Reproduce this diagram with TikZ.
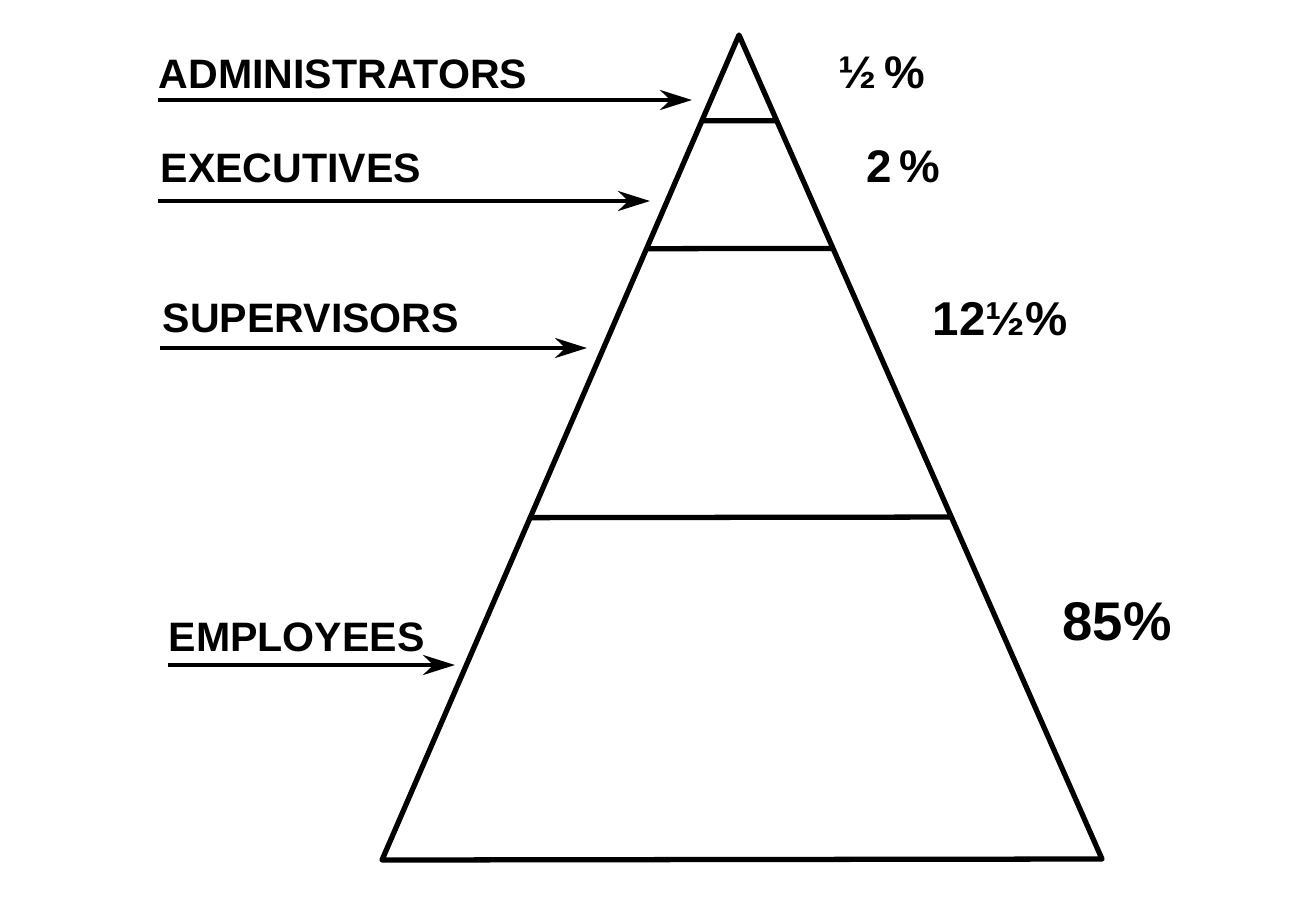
\documentclass[tikz,border=0pt]{standalone}
\usepackage{fontspec}
\setmainfont{Liberation Sans}
\usepackage{tikz}
\usetikzlibrary{positioning,arrows.meta,calc}

\begin{document}
\begin{tikzpicture}[
lbl/.style={anchor=base west,inner sep=0pt,font=\fontsize{11.7}{14}\selectfont\bfseries},
pct/.style={anchor=base west,inner sep=0pt,font=\fontsize{#1}{18}\selectfont\bfseries},
pct/.default=13,
arr/.style={-{Stealth[length=3.2mm,width=2mm]},line width=1.2pt},
edge/.style={line width=1.5pt,line join=round}]
\useasboundingbox (0,0) rectangle (13.1,9.02);
% pyramid
\coordinate (apex) at (7.39,8.67);
\coordinate (bl) at (3.82,0.42);
\coordinate (br) at (11.02,0.43);
\draw[edge] (apex)--(bl)--(br)--cycle;
\draw[edge] ($(apex)!0.104!(bl)$)--($(apex)!0.104!(br)$);
\draw[edge] ($(apex)!0.259!(bl)$)--($(apex)!0.259!(br)$);
\draw[edge] ($(apex)!0.585!(bl)$)--($(apex)!0.585!(br)$);
% labels
\node[lbl] (adm) at (1.58,8.14) {ADMINISTRATORS};
\node[lbl] (exe) at (1.60,7.20) {EXECUTIVES};
\node[lbl] (sup) at (1.62,5.70) {SUPERVISORS};
\node[lbl] (emp) at (1.68,2.51) {EMPLOYEES};
\coordinate (adm-s) at (1.58,8.02); \coordinate (adm-e) at (6.92,8.02);
\coordinate (exe-s) at (1.58,7.01); \coordinate (exe-e) at (6.50,7.01);
\coordinate (sup-s) at (1.60,5.54); \coordinate (sup-e) at (5.87,5.54);
\coordinate (emp-s) at (1.68,2.37); \coordinate (emp-e) at (4.55,2.37);
\draw[arr] (adm-s)--(adm-e); \draw[arr] (exe-s)--(exe-e);
\draw[arr] (sup-s)--(sup-e); \draw[arr] (emp-s)--(emp-e);
% shares
\node[pct] (p1) at (8.38,8.14) {½\,\%};
\node[pct] (p2) at (8.66,7.20) {2\,\%};
\node[pct=13.5] (p3) at (9.32,5.67) {12½\%};
\node[pct=15.5] (p4) at (10.62,2.62) {85\%};
\end{tikzpicture}
\end{document}
